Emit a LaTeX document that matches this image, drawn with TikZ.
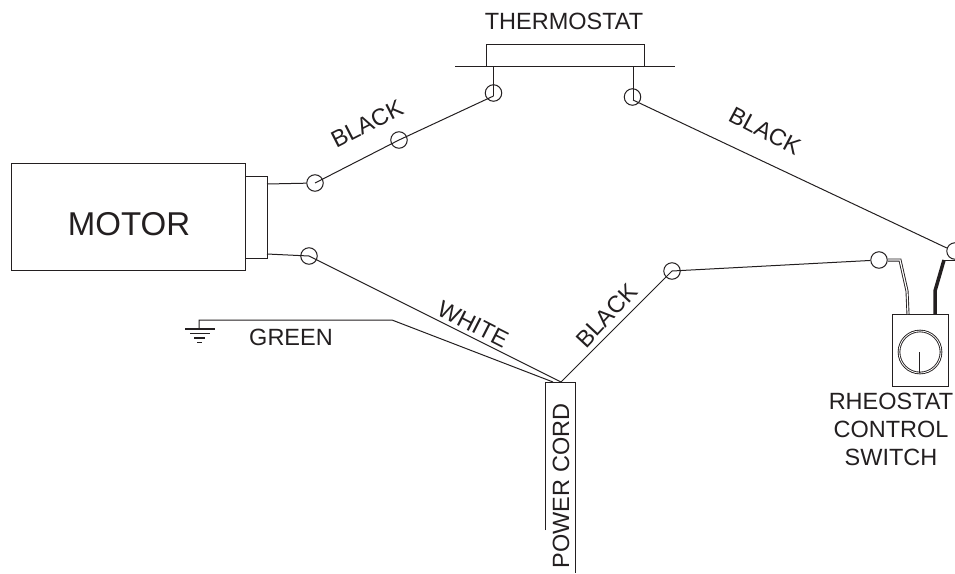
\documentclass[tikz,border=0pt]{standalone}
\usepackage{fontspec}
\setmainfont{Liberation Sans}
\definecolor{ink}{HTML}{231F20}
\tikzset{
  part/.style={draw=ink,line width=1pt,inner sep=0pt},
  term/.style={circle,draw=ink,line width=1pt,minimum size=16.5pt,inner sep=0pt},
  wire/.style={draw=ink,line width=1pt},
  lbl/.style={text=ink,font=\fontsize{23.5}{26}\selectfont,inner sep=0pt},
  big/.style={text=ink,font=\fontsize{33}{36}\selectfont,inner sep=0pt},
  ground/.style={draw=ink,line width=1.2pt}
}
\begin{document}
\begin{tikzpicture}[x=1pt,y=-1pt]
\useasboundingbox (0,0) rectangle (955,573);
% motor
\node[part,minimum width=234pt,minimum height=107pt] (motor) at (128,216.5) {};
\node[part,minimum width=22pt,minimum height=82pt] (conn) at (256,217) {};
\node[big] (motortxt) at (129,224) {MOTOR};
% thermostat
\node[part,minimum width=158pt,minimum height=22pt] (thermo) at (565,55) {};
\coordinate (barL) at (455,66);
\coordinate (barR) at (675,66);
\draw[wire] (barL) -- (barR);
\node[lbl] (thermotxt) at (564,21) {THERMOSTAT};
% terminals
\node[term] (t1) at (493.5,93) {};
\node[term] (t2) at (632.5,97) {};
\node[term] (t3) at (399,140) {};
\node[term] (t4) at (315,183) {};
\node[term] (t5) at (309,256) {};
\node[term] (t6) at (672,271) {};
\node[term] (t7) at (879,260) {};
\node[term] (t8) at (955,251) {};
% leads
\coordinate (lead1) at (493.5,66);
\coordinate (lead1e) at (493.5,96);
\coordinate (lead2) at (633,66);
\coordinate (lead2e) at (633,100);
\draw[wire] (lead1) -- (lead1e);
\draw[wire] (lead2) -- (lead2e);
\draw[wire] (lead1e) -- (t3.center) -- (t4.center);
\draw[wire] (lead2e) -- (t8.160);
\coordinate (m1) at (267,184);
\coordinate (m2) at (267,254);
\draw[wire] (m1) -- (t4);
\draw[wire] (m2) -- (t5.center);
% power cord
\coordinate (pc1) at (545,382);
\coordinate (pc2) at (575,382);
\coordinate (pc3) at (575,573);
\coordinate (pc4) at (545,530);
\draw[wire] (pc4) -- (pc1) -- (pc2) -- (pc3);
\node[lbl,rotate=90] (cordtxt) at (561,486) {POWER CORD};
\coordinate (cordT) at (561,382);
\draw[wire] (t5.center) -- (cordT);
\draw[wire] (t6.center) -- (cordT);
\draw[wire] (t6.center) -- (t7);
% ground
\coordinate (gnd) at (199,329);
\coordinate (gbend) at (392,320);
\coordinate (gend) at (553,382);
\draw[wire] (gnd) -- (199,320) -- (gbend) -- (gend);
\draw[ground] (185,329) -- (215,329);
\draw[ground] (190,333.5) -- (210,333.5);
\draw[ground] (194,338) -- (205,338);
\draw[ground] (197,342.5) -- (202,342.5);
\node[lbl] (green) at (291,337) {GREEN};
% wire labels
\node[lbl,rotate=27] at (367,124) {BLACK};
\node[lbl,rotate=-28] at (765,131) {BLACK};
\node[lbl,rotate=-27] at (473,324) {WHITE};
\node[lbl,rotate=47] at (606.5,315.5) {BLACK};
% rheostat
\node[part,minimum width=56pt,minimum height=72pt] (rheo) at (920,350) {};
\node[circle,draw=ink,double=white,double distance=0.8pt,line width=0.9pt,minimum size=42pt,inner sep=0pt] (dial) at (920,352) {};
\coordinate (needle) at (919.5,373);
\draw[wire,line width=1.6pt] (919.5,352) -- (needle);
\coordinate (w1) at (908,314);
\coordinate (w2) at (935,314);
\draw[draw=ink,line width=.9pt,double=white,double distance=1.2pt] (t7) -- (900,260) -- (907,291) -- (w1);
\draw[wire] (943,260) -- (955,260);
\draw[draw=ink,line width=3.5pt] (944,260) -- (935,291) -- (w2);
\node[lbl,align=center,font=\fontsize{23.5}{28}\selectfont] (rheotxt) at (891,429) {RHEOSTAT\\CONTROL\\SWITCH};
\end{tikzpicture}
\end{document}
